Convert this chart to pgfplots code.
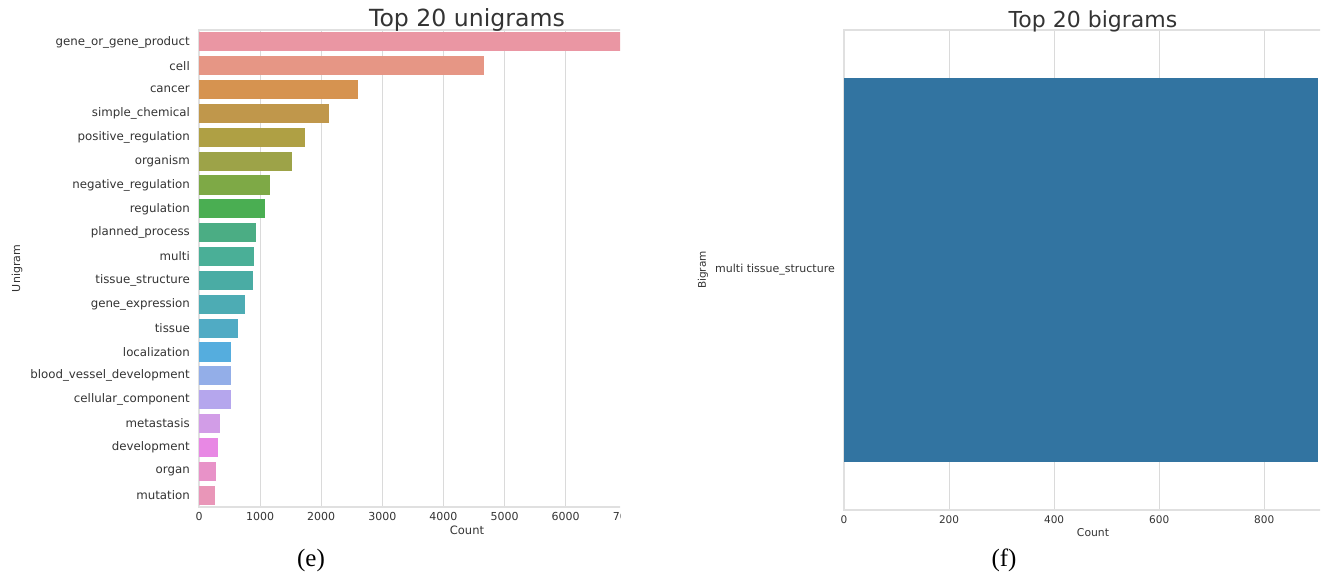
\documentclass[border=0pt]{standalone}
\usepackage{pgfplots}
\pgfplotsset{compat=1.18}
\usepackage{fontspec}
\setmainfont{DejaVu Sans}
\newfontfamily\capfont{Liberation Serif}
\definecolor{txt}{HTML}{333333}
\definecolor{gridc}{HTML}{DADADA}
\definecolor{spinec}{HTML}{E0E0E0}
\definecolor{c0}{HTML}{E996B8}
\definecolor{c1}{HTML}{E892C8}
\definecolor{c2}{HTML}{E888E4}
\definecolor{c3}{HTML}{D29DE7}
\definecolor{c4}{HTML}{B5A6ED}
\definecolor{c5}{HTML}{93AEE8}
\definecolor{c6}{HTML}{55ADDE}
\definecolor{c7}{HTML}{50ABC4}
\definecolor{c8}{HTML}{4DACB4}
\definecolor{c9}{HTML}{4AACA4}
\definecolor{c10}{HTML}{4AAF97}
\definecolor{c11}{HTML}{4BAD84}
\definecolor{c12}{HTML}{4AAE52}
\definecolor{c13}{HTML}{7EA946}
\definecolor{c14}{HTML}{9DA348}
\definecolor{c15}{HTML}{AFA044}
\definecolor{c16}{HTML}{C0974B}
\definecolor{c17}{HTML}{D69350}
\definecolor{c18}{HTML}{E69685}
\definecolor{c19}{HTML}{EA96A3}
\definecolor{bblue}{HTML}{3274A1}
\pgfplotsset{
  seab/.style={
    scale only axis, anchor=south west,
    xbar, bar width=0.8, bar shift=0pt,
    major tick length=0pt,
    xmajorgrids, ymajorgrids=false,
    grid style={gridc, line width=0.9pt},
    axis line style={spinec, line width=1.3pt},
    scaled x ticks=false,
    ticklabel style={text=txt},
    xticklabel style={inner sep=0pt, anchor=north, yshift=-5pt},
    yticklabel style={inner sep=0pt, anchor=east, xshift=-9pt},
    every axis title/.style={at={(0.5,1)}, anchor=center, yshift=10pt, text=txt},
    every axis x label/.style={at={(0.5,0)}, anchor=center, yshift=-23pt, text=txt},
  }
}
\begin{document}
\begin{tikzpicture}
\useasboundingbox (0pt,0pt) rectangle (1324pt,584pt);
\begin{scope}
\clip (0pt,0pt) rectangle (620pt,584pt);
\begin{axis}[seab,
  at={(199pt,77pt)}, width=536pt, height=477pt,
  xmin=0, xmax=8770, ymin=-0.5, ymax=19.5,
  xtick={0,1000,2000,3000,4000,5000,6000,7000},
  xticklabels={0,1000,2000,3000,4000,5000,6000,7000},
  xticklabel style={font=\fontsize{11}{13}\selectfont},
  ytick={0,1,...,19},
  yticklabels={mutation,organ,development,metastasis,cellular\_component,blood\_vessel\_development,localization,tissue,gene\_expression,tissue\_structure,multi,planned\_process,regulation,negative\_regulation,organism,positive\_regulation,simple\_chemical,cancer,cell,gene\_or\_gene\_product},
  yticklabel style={font=\fontsize{11.8}{14}\selectfont},
  title={Top 20 unigrams}, title style={font=\fontsize{23.6}{28}\selectfont},
  xlabel={Count}, xlabel style={font=\fontsize{11.5}{14}\selectfont},
  ylabel={Unigram},
  every axis y label/.style={at={(0,0.5)}, anchor=center, xshift=-182pt, rotate=90, text=txt, font=\fontsize{11}{13}\selectfont},
]
\addplot[fill=c0, draw=none] coordinates {(262,0)};
\addplot[fill=c1, draw=none] coordinates {(283,1)};
\addplot[fill=c2, draw=none] coordinates {(318,2)};
\addplot[fill=c3, draw=none] coordinates {(338,3)};
\addplot[fill=c4, draw=none] coordinates {(518,4)};
\addplot[fill=c5, draw=none] coordinates {(520,5)};
\addplot[fill=c6, draw=none] coordinates {(522,6)};
\addplot[fill=c7, draw=none] coordinates {(635,7)};
\addplot[fill=c8, draw=none] coordinates {(753,8)};
\addplot[fill=c9, draw=none] coordinates {(891,9)};
\addplot[fill=c10, draw=none] coordinates {(893,10)};
\addplot[fill=c11, draw=none] coordinates {(932,11)};
\addplot[fill=c12, draw=none] coordinates {(1084,12)};
\addplot[fill=c13, draw=none] coordinates {(1160,13)};
\addplot[fill=c14, draw=none] coordinates {(1519,14)};
\addplot[fill=c15, draw=none] coordinates {(1733,15)};
\addplot[fill=c16, draw=none] coordinates {(2127,16)};
\addplot[fill=c17, draw=none] coordinates {(2604,17)};
\addplot[fill=c18, draw=none] coordinates {(4668,18)};
\addplot[fill=c19, draw=none] coordinates {(8350,19)};
\end{axis}
\end{scope}
\begin{scope}
\clip (620pt,0pt) rectangle (1320pt,584pt);
\begin{axis}[seab,
  at={(844pt,74pt)}, width=498pt, height=480pt,
  xmin=0, xmax=948, ymin=-0.5, ymax=0.5,
  xtick={0,200,400,600,800},
  xticklabels={0,200,400,600,800},
  xticklabel style={font=\fontsize{10.5}{12}\selectfont, yshift=-1pt},
  ytick={0}, yticklabels={multi tissue\_structure},
  yticklabel style={font=\fontsize{11}{13}\selectfont},
  title={Top 20 bigrams}, title style={font=\fontsize{22}{26}\selectfont, yshift=-1pt},
  xlabel={Count}, xlabel style={font=\fontsize{10.8}{13}\selectfont},
  ylabel={Bigram},
  every axis y label/.style={at={(0,0.5)}, anchor=center, xshift=-141pt, rotate=90, text=txt, font=\fontsize{10.5}{12}\selectfont},
]
\addplot[fill=bblue, draw=none] coordinates {(903,0)};
\end{axis}
\end{scope}
\node[font=\capfont\fontsize{25}{30}\selectfont, anchor=center] at (311pt,24pt) {(e)};
\node[font=\capfont\fontsize{25}{30}\selectfont, anchor=center] at (1004pt,24pt) {(f)};
\end{tikzpicture}
\end{document}
